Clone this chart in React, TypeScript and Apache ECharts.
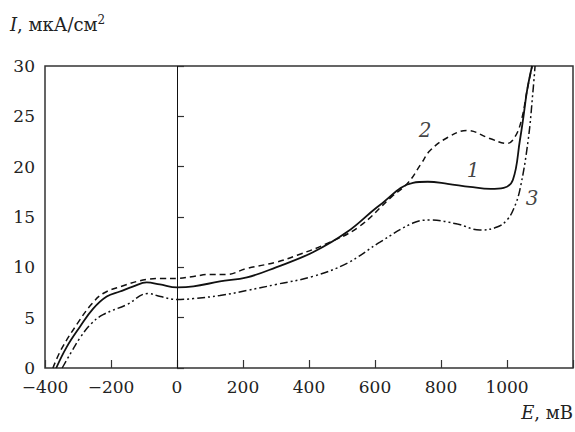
import React, { useEffect, useRef } from "react";
import * as echarts from "echarts";

const E1 = [-366, -334, -294, -254, -213, -173, -132, -92, -52, 0, 50, 130, 212, 300, 412, 515, 615, 715, 760, 820, 888, 950, 990, 1018, 1039, 1050, 1061, 1076];
const I1 = [0, 2.1, 4.1, 5.9, 7.1, 7.6, 8.1, 8.5, 8.3, 8.0, 8.1, 8.6, 9.0, 10.0, 11.5, 13.5, 16.2, 18.4, 18.5, 18.3, 18.0, 17.8, 17.9, 18.7, 22.6, 25.0, 27.6, 30];

const E2 = [-376, -350, -300, -260, -224, -170, -91, -40, 0, 50, 100, 150, 212, 300, 364, 450, 550, 650, 700, 740, 767, 820, 879, 948, 1000, 1025, 1045, 1061, 1076];
const I2 = [0, 1.9, 4.5, 6.3, 7.4, 8.1, 8.8, 8.9, 8.9, 9.1, 9.3, 9.3, 9.9, 10.5, 11.2, 12.3, 14.0, 17.0, 18.4, 20.3, 21.6, 22.9, 23.6, 22.8, 22.3, 23.0, 24.8, 27.6, 30];

const E3 = [-348, -320, -294, -260, -224, -152, -88, -50, 0, 50, 130, 212, 300, 412, 515, 615, 715, 767, 850, 918, 970, 1000, 1020, 1039, 1064, 1079, 1085];
const I3 = [0, 1.6, 3.0, 4.4, 5.3, 6.3, 7.4, 7.1, 6.8, 6.9, 7.2, 7.7, 8.3, 9.1, 10.4, 12.5, 14.4, 14.7, 14.3, 13.7, 14.0, 14.7, 15.8, 17.7, 22.6, 27.6, 30];

const curveLabels = ["1", "2", "3"];
const labelE = [897, 752, 1076];
const labelI = [19.7, 23.6, 16.9];

const FONT = "DejaVu Serif";

const zip = (xs: number[], ys: number[]) => xs.map((x, i) => [x, ys[i]]);

export default function App() {
  const ref = useRef<HTMLDivElement>(null);
  useEffect(() => {
    if (!ref.current) return;
    document.body.style.margin = "0";
    const chart = echarts.init(ref.current, null, { renderer: "svg" });
    const lineBase = {
      type: "line" as const,
      showSymbol: false,
      smooth: 0.4,
      silent: true,
    };
    chart.setOption({
      animation: false,
      textStyle: { fontFamily: FONT },
      grid: {
        left: 45,
        right: 2,
        top: 66,
        bottom: 64,
        containLabel: false,
        outerBoundsMode: "none",
        show: true,
        borderColor: "#333",
        borderWidth: 1.5,
        backgroundColor: "transparent",
      },
      xAxis: {
        type: "value",
        min: -400,
        max: 1200,
        interval: 200,
        splitLine: { show: false },
        axisLine: { show: false },
        axisTick: { show: true, inside: true, length: 8, lineStyle: { color: "#333", width: 1.2 } },
        axisLabel: {
          color: "#222",
          fontSize: 17,
          fontFamily: FONT,
          margin: 10,
          formatter: (v: number) => (v >= 1200 ? "" : v < 0 ? "\u2212" + Math.abs(v) : String(v)),
        },
      },
      yAxis: {
        type: "value",
        min: 0,
        max: 30,
        interval: 5,
        splitLine: { show: false },
        axisLine: { show: false },
        axisTick: { show: true, inside: true, length: 7, lineStyle: { color: "#333", width: 1.2 } },
        axisLabel: { color: "#222", fontSize: 17, fontFamily: FONT, margin: 10 },
      },
      graphic: [
        {
          type: "text",
          x: 10,
          y: 14,
          style: {
            text: "{i|I}{n|, мкА/см}{s|2}",
            rich: {
              i: { fontStyle: "italic", fontSize: 18, fontFamily: FONT, fill: "#222" },
              n: { fontSize: 18, fontFamily: FONT, fill: "#222" },
              s: { fontSize: 12, fontFamily: FONT, verticalAlign: "top", padding: [0, 0, 8, 0], fill: "#222" },
            },
          },
        },
        {
          type: "text",
          x: 573,
          y: 403,
          style: {
            text: "{i|E}{n|, мВ}",
            align: "right",
            rich: {
              i: { fontStyle: "italic", fontSize: 18, fontFamily: FONT, fill: "#222" },
              n: { fontSize: 18, fontFamily: FONT, fill: "#222" },
            },
          },
        },
      ],
      series: [
        {
          ...lineBase,
          name: "1",
          data: zip(E1, I1),
          lineStyle: { color: "#111", width: 1.8, type: "solid" },
          markLine: {
            silent: true,
            symbol: ["none", "none"],
            label: { show: false },
            lineStyle: { color: "#111", width: 1, type: "solid" },
            data: [{ xAxis: 0 }],
          },
        },
        {
          ...lineBase,
          name: "2",
          data: zip(E2, I2),
          lineStyle: { color: "#111", width: 1.5, type: [6, 4] },
        },
        {
          ...lineBase,
          name: "3",
          data: zip(E3, I3),
          lineStyle: { color: "#111", width: 1.5, type: [8, 3, 2, 3, 2, 3] },
        },
        {
          type: "scatter",
          silent: true,
          symbolSize: 0,
          data: curveLabels.map((t, i) => ({ value: [labelE[i], labelI[i]], name: t })),
          label: {
            show: true,
            position: "inside",
            formatter: (p: any) => p.name,
            fontStyle: "italic",
            fontSize: 20,
            fontFamily: FONT,
            color: "#111",
          },
        },
      ],
    });
    return () => chart.dispose();
  }, []);
  return <div ref={ref} style={{ width: 575, height: 432 }} />;
}
